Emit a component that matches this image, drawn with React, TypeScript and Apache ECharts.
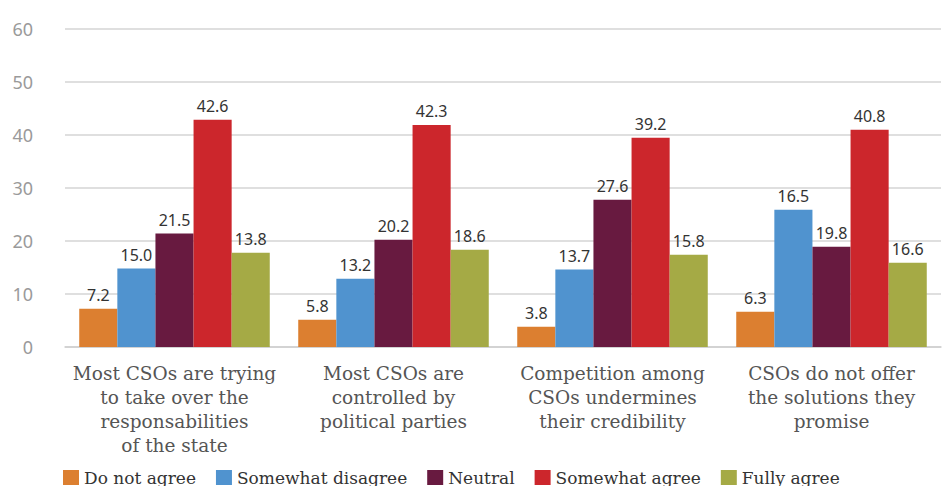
import React, { useEffect, useRef } from "react";
import * as echarts from "echarts";

const categories = [
  "Most CSOs are trying\nto take over the\nresponsabilities\nof the state",
  "Most CSOs are\ncontrolled by\npolitical parties",
  "Competition among\nCSOs undermines\ntheir credibility",
  "CSOs do not offer\nthe solutions they\npromise",
];
const seriesNames = ["Do not agree", "Somewhat disagree", "Neutral", "Somewhat agree", "Fully agree"];
const colors = ["#DC7F30", "#5093CF", "#681A40", "#CC262C", "#A5AA45"];
// bar heights as drawn in the picture
const doNotAgree = [7.2, 5.15, 3.8, 6.65];
const somewhatDisagree = [14.8, 12.9, 14.6, 25.9];
const neutral = [21.4, 20.25, 27.8, 18.9];
const somewhatAgree = [42.9, 41.9, 39.5, 41.0];
const fullyAgree = [17.8, 18.35, 17.4, 15.9];
// value labels as printed in the picture
const doNotAgreeLabels = ["7.2", "5.8", "3.8", "6.3"];
const somewhatDisagreeLabels = ["15.0", "13.2", "13.7", "16.5"];
const neutralLabels = ["21.5", "20.2", "27.6", "19.8"];
const somewhatAgreeLabels = ["42.6", "42.3", "39.2", "40.8"];
const fullyAgreeLabels = ["13.8", "18.6", "15.8", "16.6"];
const yTicks = [0, 10, 20, 30, 40, 50, 60];

const values = [doNotAgree, somewhatDisagree, neutral, somewhatAgree, fullyAgree];
const labels = [doNotAgreeLabels, somewhatDisagreeLabels, neutralLabels, somewhatAgreeLabels, fullyAgreeLabels];

export default function App() {
  const ref = useRef<HTMLDivElement>(null);
  useEffect(() => {
    const chart = echarts.init(ref.current!, null, { renderer: "svg" });
    chart.setOption({
      animation: false,
      backgroundColor: "#ffffff",
      grid: { left: 65, right: 10, top: 29, bottom: 139 },
      legend: {
        left: 58,
        top: 464,
        itemWidth: 16,
        itemHeight: 15,
        itemGap: 20,
        icon: "rect",
        textStyle: { fontFamily: "DejaVu Serif", fontSize: 17, color: "#333" },
        data: seriesNames,
      },
      xAxis: {
        type: "category",
        data: categories,
        axisLine: { show: true, lineStyle: { color: "#cfcfcf", width: 1.5 } },
        axisTick: { show: false },
        axisLabel: {
          interval: 0,
          margin: 14,
          fontFamily: "DejaVu Serif",
          fontSize: 18.5,
          lineHeight: 24,
          color: "#555",
          align: "center",
        },
      },
      yAxis: {
        type: "value",
        min: yTicks[0],
        max: yTicks[yTicks.length - 1],
        interval: 10,
        axisLine: { show: false },
        axisTick: { show: false },
        splitLine: { lineStyle: { color: "#d4d4d4", width: 1.5 } },
        axisLabel: { margin: 32, fontFamily: "Noto Sans", fontSize: 18, color: "#9a9a9a" },
      },
      series: seriesNames.map((name, i) => ({
        name,
        type: "bar",
        data: values[i],
        barGap: "0%",
        barCategoryGap: "13%",
        itemStyle: { color: colors[i] },
        label: {
          show: true,
          position: "top",
          distance: 6,
          fontFamily: "Noto Sans",
          fontSize: 16,
          color: "#333",
          formatter: (p: any) => labels[i][p.dataIndex],
        },
      })),
    });
    return () => chart.dispose();
  }, []);
  return <div ref={ref} style={{ position: "fixed", left: 0, top: 0, width: 951, height: 486 }} />;
}
